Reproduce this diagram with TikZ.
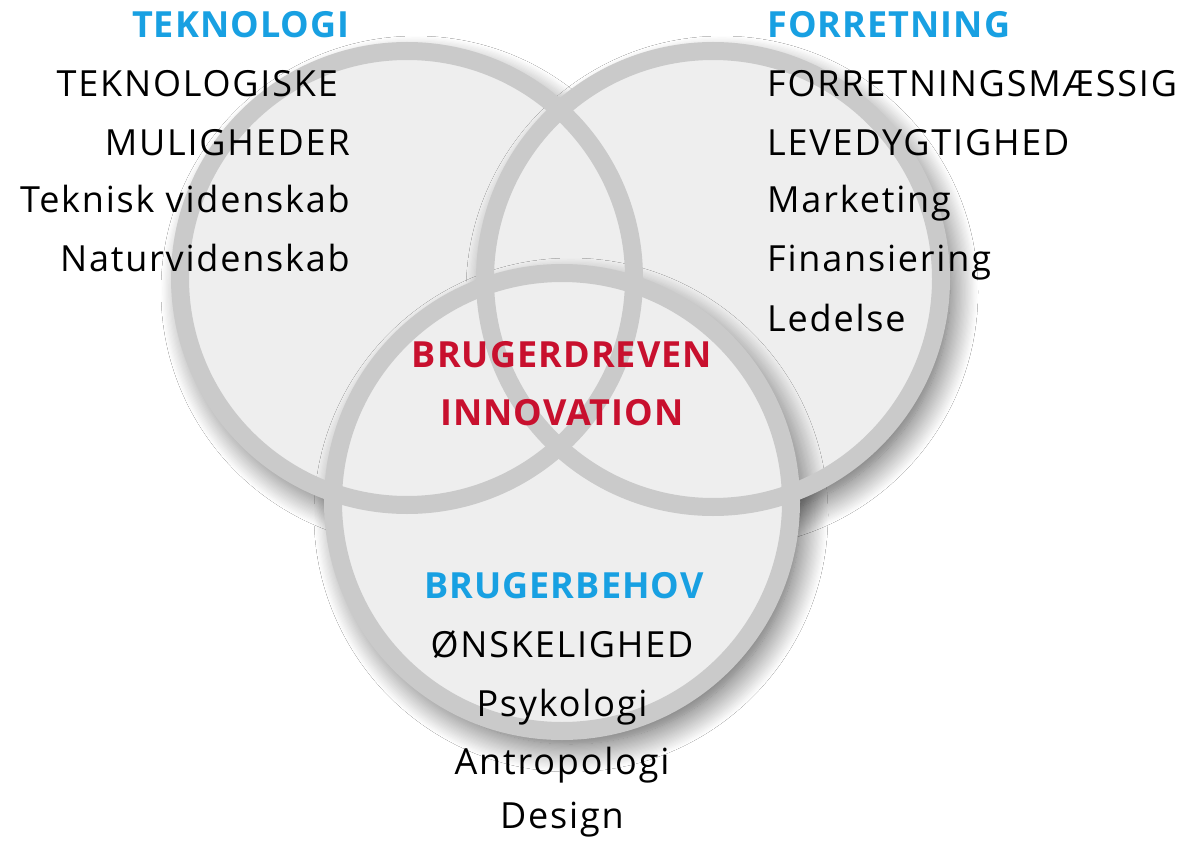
\documentclass[tikz,border=0pt]{standalone}
\usepackage{fontspec}
\setmainfont{Open Sans}
\newfontfamily\regfont[LetterSpace=5]{Open Sans}
\newfontfamily\boldfont[LetterSpace=3]{Open Sans Bold}
\usetikzlibrary{shadows.blur}
\definecolor{ringgray}{RGB}{202,202,202}
\definecolor{fillgray}{RGB}{238,238,238}
\definecolor{headblue}{RGB}{24,160,226}
\definecolor{innored}{RGB}{200,16,46}
\begin{document}
\begin{tikzpicture}[x=1pt,y=-1pt,
  circfill/.style={fill=fillgray, blur shadow={shadow xshift=9pt, shadow yshift=-13pt, shadow blur radius=28pt, shadow blur steps=24, shadow opacity=70}},
  ring/.style={draw=ringgray, line width=18pt},
  txt/.style={font=\fontsize{36}{42}\regfont, text=black, inner sep=0pt},
  head/.style={font=\fontsize{36}{42}\boldfont, text=headblue, inner sep=0pt},
  core/.style={font=\fontsize{36}{42}\boldfont, text=innored, inner sep=0pt}
]
\useasboundingbox (0,0) rectangle (1188,842);
\fill[white] (0,0) rectangle (1188,842);

% circle centres
\coordinate (cT) at (407,278);
\coordinate (cF) at (713,279);
\coordinate (cB) at (562,502);

% fills with shadows
\path[circfill] (cT) circle[radius=227];
\path[circfill] (cF) circle[radius=228];
\path[circfill] (cB) circle[radius=229];
% rings
\draw[ring] (cT) circle[radius=227];
\draw[ring] (cF) circle[radius=228];
\draw[ring] (cB) circle[radius=229];

% TEKNOLOGI block
\node[head,anchor=base east] (tHead) at (350,38) {TEKNOLOGI};
\node[txt,anchor=base east] (t1) at (338,97) {TEKNOLOGISKE};
\node[txt,anchor=base east] (t2) at (350,156) {MULIGHEDER};
\node[txt,anchor=base east] (t3) at (350,213) {Teknisk videnskab};
\node[txt,anchor=base east] (t4) at (350,272) {Naturvidenskab};

% FORRETNING block
\node[head,anchor=base west] (fHead) at (767,38) {FORRETNING};
\node[txt,anchor=base west] (f1) at (767,97) {FORRETNINGSMÆSSIG};
\node[txt,anchor=base west] (f2) at (767,156) {LEVEDYGTIGHED};
\node[txt,anchor=base west] (f3) at (767,213) {Marketing};
\node[txt,anchor=base west] (f4) at (767,272) {Finansiering};
\node[txt,anchor=base west] (f5) at (767,331) {Ledelse};

% centre
\node[core,anchor=base] (c1) at (562,367) {BRUGERDREVEN};
\node[core,anchor=base] (c2) at (562,425) {INNOVATION};

% BRUGERBEHOV block
\node[head,anchor=base] (bHead) at (564,598) {BRUGERBEHOV};
\node[txt,anchor=base] (b1) at (562,657) {ØNSKELIGHED};
\node[txt,anchor=base] (b2) at (562,716) {Psykologi};
\node[txt,anchor=base] (b3) at (562,774) {Antropologi};
\node[txt,anchor=base] (b4) at (562,828) {Design};
\end{tikzpicture}
\end{document}
